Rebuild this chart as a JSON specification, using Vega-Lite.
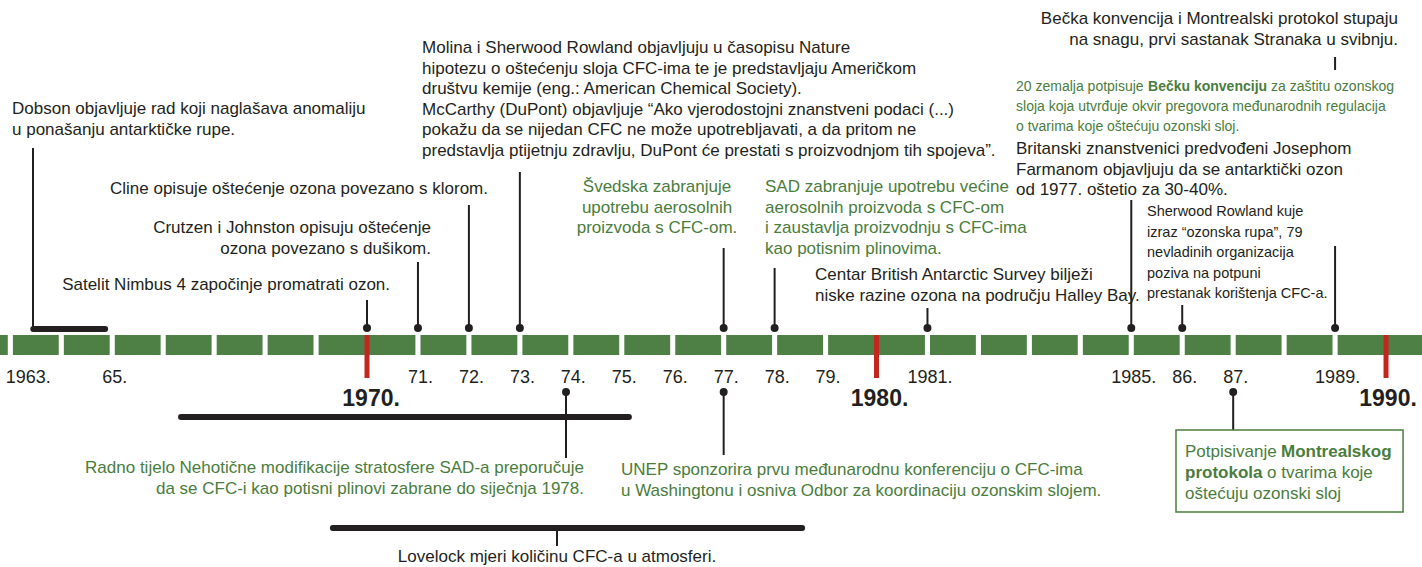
{
  "$schema": "https://vega.github.io/schema/vega-lite/v6.json",
  "width": 1422,
  "height": 567,
  "autosize": {"type": "fit", "contains": "padding"},
  "padding": 0,
  "background": "white",
  "config": {"view": {"stroke": null}, "text": {"font": "Liberation Sans"}},
  "datasets": {
    "segs": [
      {"a": 1962.797, "b": 1962.95}, {"a": 1963.05, "b": 1963.95}, {"a": 1964.05, "b": 1964.95},
      {"a": 1965.05, "b": 1965.95}, {"a": 1966.05, "b": 1966.95}, {"a": 1967.05, "b": 1967.95},
      {"a": 1968.05, "b": 1968.95}, {"a": 1969.05, "b": 1970.95}, {"a": 1971.05, "b": 1971.95},
      {"a": 1972.05, "b": 1972.95}, {"a": 1973.05, "b": 1973.95}, {"a": 1974.05, "b": 1974.95},
      {"a": 1975.05, "b": 1975.95}, {"a": 1976.05, "b": 1976.95}, {"a": 1977.05, "b": 1977.95},
      {"a": 1978.05, "b": 1978.95}, {"a": 1979.05, "b": 1980.95}, {"a": 1981.05, "b": 1981.95},
      {"a": 1982.05, "b": 1982.95}, {"a": 1983.05, "b": 1983.95}, {"a": 1984.05, "b": 1984.95},
      {"a": 1985.05, "b": 1985.95}, {"a": 1986.05, "b": 1986.95}, {"a": 1987.05, "b": 1987.95},
      {"a": 1988.05, "b": 1988.95}, {"a": 1989.05, "b": 1990.706}
    ],
    "decades": [
      {"year": 1970, "lab": "1970.", "lx": 1970.08},
      {"year": 1980, "lab": "1980.", "lx": 1980.06},
      {"year": 1990, "lab": "1990.", "lx": 1990.04}
    ],
    "years": [
      {"lab": "1963.", "x": 1963.35}, {"lab": "65.", "x": 1965.05}, {"lab": "71.", "x": 1971.05},
      {"lab": "72.", "x": 1972.05}, {"lab": "73.", "x": 1973.05}, {"lab": "74.", "x": 1974.05},
      {"lab": "75.", "x": 1975.05}, {"lab": "76.", "x": 1976.05}, {"lab": "77.", "x": 1977.05},
      {"lab": "78.", "x": 1978.05}, {"lab": "79.", "x": 1979.05}, {"lab": "1981.", "x": 1981.05},
      {"lab": "1985.", "x": 1985.05}, {"lab": "86.", "x": 1986.05}, {"lab": "87.", "x": 1987.05},
      {"lab": "1989.", "x": 1989.05}
    ],
    "links": [
      {"x": 1963.445, "top": 148, "bottom": 329},
      {"x": 1970, "top": 300, "bottom": 328},
      {"x": 1971, "top": 262, "bottom": 328},
      {"x": 1972, "top": 205, "bottom": 328},
      {"x": 1973, "top": 172, "bottom": 328},
      {"x": 1977, "top": 248, "bottom": 328},
      {"x": 1978, "top": 268, "bottom": 328},
      {"x": 1981, "top": 308, "bottom": 328},
      {"x": 1985, "top": 200, "bottom": 328},
      {"x": 1986, "top": 305, "bottom": 328},
      {"x": 1989, "top": 246, "bottom": 328},
      {"x": 1989, "top": 57, "bottom": 70},
      {"x": 1973.906, "top": 392, "bottom": 458},
      {"x": 1977, "top": 392, "bottom": 455},
      {"x": 1987, "top": 392, "bottom": 430},
      {"x": 1973.729, "top": 528, "bottom": 546}
    ],
    "dots": [
      {"x": 1970, "y": 328}, {"x": 1971, "y": 328}, {"x": 1972, "y": 328}, {"x": 1973, "y": 328},
      {"x": 1977, "y": 328}, {"x": 1978, "y": 328}, {"x": 1981, "y": 328}, {"x": 1985, "y": 328},
      {"x": 1986, "y": 328}, {"x": 1989, "y": 328},
      {"x": 1973.906, "y": 392}, {"x": 1977, "y": 392}, {"x": 1987, "y": 392}
    ],
    "spans": [
      {"a": 1963.45, "b": 1964.86, "y": 329},
      {"a": 1966.35, "b": 1975.14, "y": 417},
      {"a": 1969.33, "b": 1978.54, "y": 528}
    ],
    "box": [{"a": 1985.878, "b": 1990.334, "top": 430, "bottom": 512}],
    "notes": [
      {"anchor": "left", "kind": "event", "x": 1963.033, "y": 109, "t": "Dobson objavljuje rad koji naglašava anomaliju\nu ponašanju antarktičke rupe."},
      {"anchor": "left", "kind": "event", "x": 1971.08, "y": 48, "t": "Molina i Sherwood Rowland objavljuju u časopisu Nature\nhipotezu o oštećenju sloja CFC-ima te je predstavljaju Američkom\ndruštvu kemije (eng.: American Chemical Society).\nMcCarthy (DuPont) objavljuje “Ako vjerodostojni znanstveni podaci (...)\npokažu da se nijedan CFC ne može upotrebljavati, a da pritom ne\npredstavlja ptijetnju zdravlju, DuPont će prestati s proizvodnjom tih spojeva”."},
      {"anchor": "right", "kind": "event", "x": 1972.375, "y": 189, "t": "Cline opisuje oštećenje ozona povezano s klorom."},
      {"anchor": "right", "kind": "event", "x": 1971.256, "y": 228, "t": "Crutzen i Johnston opisuju oštećenje\nozona povezano s dušikom."},
      {"anchor": "right", "kind": "event", "x": 1970.452, "y": 285, "t": "Satelit Nimbus 4 započinje promatrati ozon."},
      {"anchor": "center", "kind": "policy", "x": 1975.692, "y": 187, "t": "Švedska zabranjuje\nupotrebu aerosolnih\nproizvoda s CFC-om."},
      {"anchor": "left", "kind": "policy", "x": 1977.812, "y": 187, "t": "SAD zabranjuje upotrebu većine\naerosolnih proizvoda s CFC-om\ni zaustavlja proizvodnju s CFC-ima\nkao potisnim plinovima."},
      {"anchor": "left", "kind": "event", "x": 1978.793, "y": 275, "t": "Centar British Antarctic Survey bilježi\nniske razine ozona na području Halley Bay."},
      {"anchor": "right", "kind": "event", "x": 1990.236, "y": 19, "t": "Bečka konvencija i Montrealski protokol stupaju\nna snagu, prvi sastanak Stranaka u svibnju."},
      {"anchor": "left", "kind": "event", "x": 1982.738, "y": 149, "t": "Britanski znanstvenici predvođeni Josephom\nFarmanom objavljuju da se antarktički ozon\nod 1977. oštetio za 30-40%."},
      {"anchor": "right", "kind": "policy", "x": 1974.259, "y": 468, "t": "Radno tijelo Nehotične modifikacije stratosfere SAD-a preporučuje\nda se CFC-i kao potisni plinovi zabrane do siječnja 1978."},
      {"anchor": "left", "kind": "policy", "x": 1974.985, "y": 470, "t": "UNEP sponzorira prvu međunarodnu konferenciju o CFC-ima\nu Washingtonu i osniva Odbor za koordinaciju ozonskim slojem."},
      {"anchor": "center", "kind": "event", "x": 1973.729, "y": 557, "t": "Lovelock mjeri količinu CFC-a u atmosferi."}
    ],
    "small_notes": [
      {"x": 1985.309, "y": 212, "t": "Sherwood Rowland kuje\nizraz “ozonska rupa”, 79\nnevladinih organizacija\npoziva na potpuni\nprestanak korištenja CFC-a."}
    ],
    "narrow_notes": [
      {"w": "normal", "x": 1982.738, "y": 87, "t": "20 zemalja potpisuje"},
      {"w": "bold", "x": 1985.329, "y": 87, "t": "Bečku konvenciju"},
      {"w": "normal", "x": 1987.743, "y": 87, "t": "za zaštitu ozonskog"},
      {"w": "normal", "x": 1982.738, "y": 107, "t": "sloja koja utvrđuje okvir pregovora međunarodnih regulacija"},
      {"w": "normal", "x": 1982.738, "y": 127, "t": "o tvarima koje oštećuju ozonski sloj."}
    ],
    "box_notes": [
      {"w": "normal", "x": 1986.055, "y": 452, "t": "Potpisivanje"},
      {"w": "bold", "x": 1987.939, "y": 452, "t": "Montrealskog"},
      {"w": "bold", "x": 1986.055, "y": 473, "t": "protokola"},
      {"w": "normal", "x": 1987.664, "y": 473, "t": "o tvarima koje"},
      {"w": "normal", "x": 1986.055, "y": 494, "t": "oštećuju ozonski sloj"}
    ]
  },
  "layer": [
    {
      "data": {"name": "segs"},
      "mark": {"type": "rect", "color": "#4e8046"},
      "encoding": {
        "x": {"field": "a", "type": "quantitative", "scale": {"domain": [1962.797, 1990.706], "nice": false, "zero": false}, "axis": null},
        "x2": {"field": "b"},
        "y": {"datum": 335, "type": "quantitative", "scale": {"domain": [0, 567], "reverse": true, "nice": false, "zero": false}, "axis": null},
        "y2": {"datum": 355}
      }
    },
    {
      "data": {"name": "decades"},
      "mark": {"type": "rule", "color": "#c1271f", "strokeWidth": 5},
      "encoding": {
        "x": {"field": "year", "type": "quantitative"},
        "y": {"datum": 335, "type": "quantitative"},
        "y2": {"datum": 378}
      }
    },
    {
      "data": {"name": "years"},
      "mark": {"type": "text", "fontSize": 18, "color": "#231f20", "align": "center", "baseline": "middle"},
      "encoding": {
        "x": {"field": "x", "type": "quantitative"},
        "y": {"datum": 378, "type": "quantitative"},
        "text": {"field": "lab"}
      }
    },
    {
      "data": {"name": "decades"},
      "mark": {"type": "text", "fontSize": 23, "fontWeight": "bold", "color": "#231f20", "align": "center", "baseline": "middle"},
      "encoding": {
        "x": {"field": "lx", "type": "quantitative"},
        "y": {"datum": 399, "type": "quantitative"},
        "text": {"field": "lab"}
      }
    },
    {
      "data": {"name": "links"},
      "mark": {"type": "rule", "color": "#231f20", "strokeWidth": 2},
      "encoding": {
        "x": {"field": "x", "type": "quantitative"},
        "y": {"field": "top", "type": "quantitative"},
        "y2": {"field": "bottom"}
      }
    },
    {
      "data": {"name": "dots"},
      "mark": {"type": "point", "shape": "circle", "filled": true, "size": 64, "color": "#231f20", "opacity": 1},
      "encoding": {
        "x": {"field": "x", "type": "quantitative"},
        "y": {"field": "y", "type": "quantitative"}
      }
    },
    {
      "data": {"name": "spans"},
      "mark": {"type": "rule", "color": "#231f20", "strokeWidth": 6, "strokeCap": "round"},
      "encoding": {
        "x": {"field": "a", "type": "quantitative"},
        "x2": {"field": "b"},
        "y": {"field": "y", "type": "quantitative"}
      }
    },
    {
      "data": {"name": "box"},
      "mark": {"type": "rect", "fill": "white", "stroke": "#4a7d3d", "strokeWidth": 1.5},
      "encoding": {
        "x": {"field": "a", "type": "quantitative"},
        "x2": {"field": "b"},
        "y": {"field": "top", "type": "quantitative"},
        "y2": {"field": "bottom"}
      }
    },
    {
      "data": {"name": "notes"},
      "transform": [{"filter": "datum.anchor === 'left'"}],
      "mark": {"type": "text", "fontSize": 17, "align": "left", "baseline": "middle", "lineBreak": "\n", "lineHeight": 20.5},
      "encoding": {
        "x": {"field": "x", "type": "quantitative"},
        "y": {"field": "y", "type": "quantitative"},
        "text": {"field": "t"},
        "color": {"field": "kind", "type": "nominal", "scale": {"domain": ["event", "policy"], "range": ["#231f20", "#4a7d3d"]}, "legend": null}
      }
    },
    {
      "data": {"name": "notes"},
      "transform": [{"filter": "datum.anchor === 'right'"}],
      "mark": {"type": "text", "fontSize": 17, "align": "right", "baseline": "middle", "lineBreak": "\n", "lineHeight": 20.5},
      "encoding": {
        "x": {"field": "x", "type": "quantitative"},
        "y": {"field": "y", "type": "quantitative"},
        "text": {"field": "t"},
        "color": {"field": "kind", "type": "nominal", "legend": null}
      }
    },
    {
      "data": {"name": "notes"},
      "transform": [{"filter": "datum.anchor === 'center'"}],
      "mark": {"type": "text", "fontSize": 17, "align": "center", "baseline": "middle", "lineBreak": "\n", "lineHeight": 20.5},
      "encoding": {
        "x": {"field": "x", "type": "quantitative"},
        "y": {"field": "y", "type": "quantitative"},
        "text": {"field": "t"},
        "color": {"field": "kind", "type": "nominal", "legend": null}
      }
    },
    {
      "data": {"name": "small_notes"},
      "mark": {"type": "text", "fontSize": 14.5, "color": "#231f20", "align": "left", "baseline": "middle", "lineBreak": "\n", "lineHeight": 20.5},
      "encoding": {
        "x": {"field": "x", "type": "quantitative"},
        "y": {"field": "y", "type": "quantitative"},
        "text": {"field": "t"}
      }
    },
    {
      "data": {"name": "narrow_notes"},
      "transform": [{"filter": "datum.w === 'normal'"}],
      "mark": {"type": "text", "fontSize": 14, "color": "#4a7d3d", "align": "left", "baseline": "middle"},
      "encoding": {
        "x": {"field": "x", "type": "quantitative"},
        "y": {"field": "y", "type": "quantitative"},
        "text": {"field": "t"}
      }
    },
    {
      "data": {"name": "narrow_notes"},
      "transform": [{"filter": "datum.w === 'bold'"}],
      "mark": {"type": "text", "fontSize": 14, "fontWeight": "bold", "color": "#4a7d3d", "align": "left", "baseline": "middle"},
      "encoding": {
        "x": {"field": "x", "type": "quantitative"},
        "y": {"field": "y", "type": "quantitative"},
        "text": {"field": "t"}
      }
    },
    {
      "data": {"name": "box_notes"},
      "transform": [{"filter": "datum.w === 'normal'"}],
      "mark": {"type": "text", "fontSize": 17, "color": "#4a7d3d", "align": "left", "baseline": "middle"},
      "encoding": {
        "x": {"field": "x", "type": "quantitative"},
        "y": {"field": "y", "type": "quantitative"},
        "text": {"field": "t"}
      }
    },
    {
      "data": {"name": "box_notes"},
      "transform": [{"filter": "datum.w === 'bold'"}],
      "mark": {"type": "text", "fontSize": 17, "fontWeight": "bold", "color": "#4a7d3d", "align": "left", "baseline": "middle"},
      "encoding": {
        "x": {"field": "x", "type": "quantitative"},
        "y": {"field": "y", "type": "quantitative"},
        "text": {"field": "t"}
      }
    }
  ]
}
